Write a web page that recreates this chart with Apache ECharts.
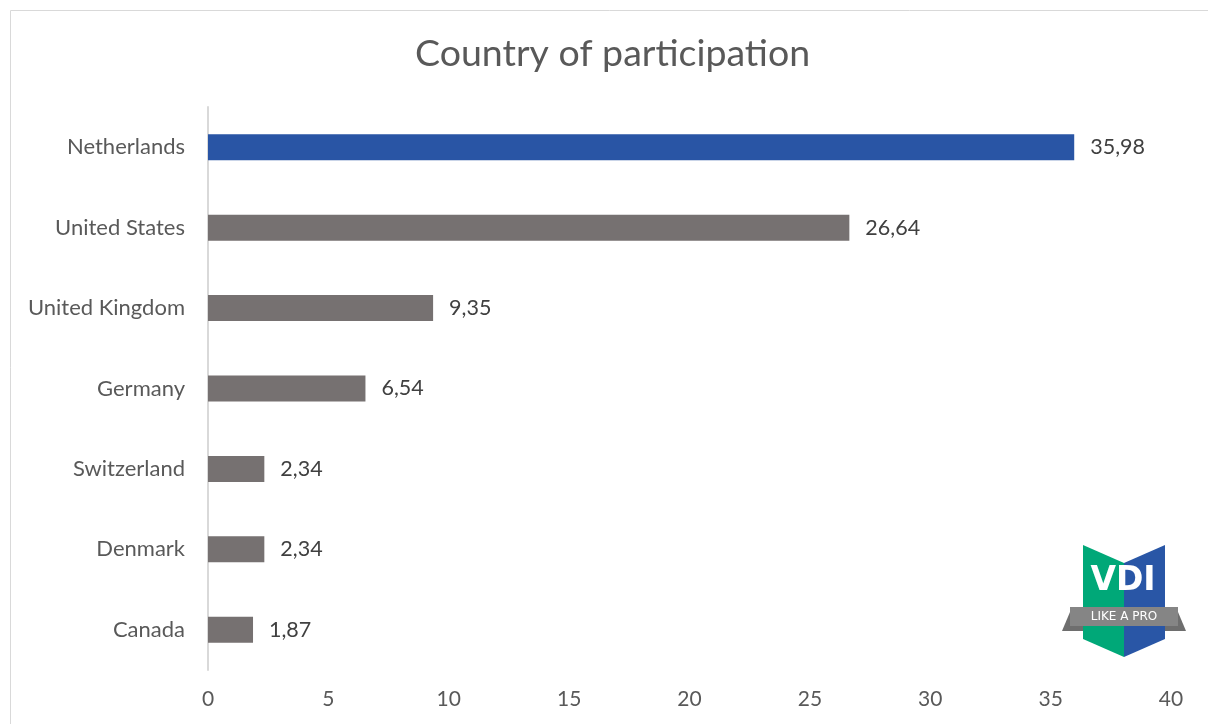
<!DOCTYPE html>
<html><head><meta charset="utf-8">
<script src="https://cdn.jsdelivr.net/npm/echarts@6/dist/echarts.min.js"></script>
<style>html,body{margin:0;padding:0;background:#fff}#c{width:1208px;height:724px}</style>
</head><body><div id="c"></div>
<script>
const categories = ['Netherlands','United States','United Kingdom','Germany','Switzerland','Denmark','Canada'];
const values = [35.98, 26.64, 9.35, 6.54, 2.34, 2.34, 1.87];
const xTicks = [0,5,10,15,20,25,30,35,40];
const highlight = 'Netherlands';

const chart = echarts.init(document.getElementById('c'));
const F = 'Lato, "Open Sans", sans-serif';
chart.setOption({
  animation:false,
  title:{text:'Country of participation',left:410,top:30,textStyle:{fontFamily:F,fontSize:37.5,fontWeight:'normal',color:'#595959'}},
  grid:{left:208,right:37,top:107,bottom:54,containLabel:false},
  xAxis:{type:'value',min:xTicks[0],max:xTicks[xTicks.length-1],interval:5,
    axisLine:{show:false},axisTick:{show:false},splitLine:{show:false},
    axisLabel:{fontFamily:F,fontSize:21,color:'#595959',margin:19}},
  yAxis:{type:'category',inverse:true,data:categories,
    axisLine:{show:true,lineStyle:{color:'#d9d9d9',width:2}},axisTick:{show:false},
    axisLabel:{fontFamily:F,fontSize:22,color:'#595959',margin:23}},
  series:[{type:'bar',barWidth:26,
    data:values.map((v,i)=>({value:v,itemStyle:{color:categories[i]===highlight?'#2955a5':'#767171'}})),
    label:{show:true,position:'right',distance:16,fontFamily:F,fontSize:21.5,color:'#404040',
      formatter:p=>p.value.toFixed(2).replace('.',',')}}],
  graphic:[
    {type:'rect',shape:{x:10.5,y:10.5,width:1400,height:900},style:{fill:'none',stroke:'#d9d9d9',lineWidth:1},silent:true},
    {type:'polygon',shape:{points:[[1083,545],[1124,563],[1124,657],[1083,639]]},style:{fill:'#00a878'}},
    {type:'polygon',shape:{points:[[1124,563],[1165,545],[1165,639],[1124,657]]},style:{fill:'#2956a6'}},
    {type:'polygon',shape:{points:[[1070,612],[1062,631],[1083,631],[1083,612]]},style:{fill:'#6e6e6e'}},
    {type:'polygon',shape:{points:[[1178,612],[1186,631],[1165,631],[1165,612]]},style:{fill:'#6e6e6e'}},
    {type:'rect',shape:{x:1070,y:607,width:108,height:19},style:{fill:'#858585'}},
    {type:'text',x:1123,y:581,style:{text:'VDI',fill:'#fff',font:'bold 33px "DejaVu Sans", sans-serif',textAlign:'center',textVerticalAlign:'middle'}},
    {type:'text',x:1124,y:617,style:{text:'LIKE A PRO',fill:'#fff',font:'12px "DejaVu Sans", sans-serif',textAlign:'center',textVerticalAlign:'middle'}}
  ]
});
</script></body></html>
